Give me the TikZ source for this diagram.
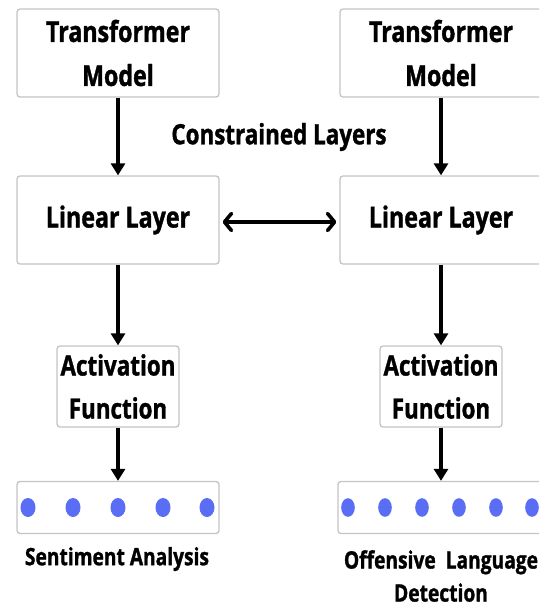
\documentclass[tikz,border=0pt]{standalone}
\usepackage{fontspec}
\setmainfont{Open Sans}[FakeStretch=0.8, BoldFeatures={FakeBold=1.2}]
\usetikzlibrary{arrows.meta}
\definecolor{boxgray}{HTML}{C4C4C4}
\definecolor{dotblue}{HTML}{5A6EF5}
\tikzset{
  block/.style={draw=boxgray, line width=1.3pt, rounded corners=3pt, fill=white,
    align=center, inner sep=0pt, font=\bfseries\fontsize{29}{44}\selectfont},
  bigbox/.style={block, minimum width=202pt, minimum height=88pt},
  actbox/.style={block, minimum width=122pt, minimum height=81pt,
    font=\bfseries\fontsize{28}{43}\selectfont},
  outbox/.style={block, minimum width=202pt, minimum height=52pt},
  downarrow/.style={draw=black, line width=3.6pt,
    arrows={-Triangle[length=12pt,width=14pt]}},
  bothways/.style={draw=black, line width=3.6pt, line cap=round,
    arrows={Straight Barb[length=7pt,width=17pt,line join=round,line cap=round]-Straight Barb[length=7pt,width=17pt,line join=round,line cap=round]}},
  tasklabel/.style={align=center, inner sep=0pt, font=\bfseries\fontsize{24}{33}\selectfont},
  unitdot/.style={fill=dotblue}
}
\begin{document}
\begin{tikzpicture}[x=1pt,y=-1pt]
\useasboundingbox (0,0) rectangle (539,606);
\clip (0,0) rectangle (539,606);

% left branch
\node[bigbox] (tl) at (118,53) {Transformer\\Model};
\node[bigbox] (ll) at (118,220) {Linear Layer};
\node[actbox] (al) at (118,386.5) {Activation\\Function};
\node[outbox] (ol) at (118,507.5) {};
\node[tasklabel] (cl) at (117,559) {Sentiment Analysis};

% right branch
\node[bigbox] (tr) at (441,53) {Transformer\\Model};
\node[bigbox] (lr) at (441,220) {Linear Layer};
\node[actbox] (ar) at (441,386.5) {Activation\\Function};
\node[outbox, minimum width=206pt] (or) at (441,507.5) {};
\node[tasklabel] (cr) at (441,576) {Offensive\ \ Language\\Detection};

% shared label
\node[font=\bfseries\fontsize{28}{33}\selectfont, inner sep=0pt] (cons) at (279,137) {Constrained Layers};

% output units
\foreach \x in {28,73,118,163,207} \fill[unitdot] (\x,507.5) ellipse (7.5pt and 9.5pt);
\foreach \x in {348,385,422,459,496,532} \fill[unitdot] (\x,507.5) ellipse (6.8pt and 9.3pt);

% connectors
\draw[downarrow] (tl) -- (ll);
\draw[downarrow] (ll) -- (al);
\draw[downarrow] (al) -- (ol);
\draw[downarrow] (tr) -- (lr);
\draw[downarrow] (lr) -- (ar);
\draw[downarrow] (ar) -- (or);
\coordinate (la) at ([shift={(3,2)}]ll.east);
\coordinate (ra) at ([shift={(-3,2)}]lr.west);
\draw[bothways] (la) -- (ra);
\end{tikzpicture}
\end{document}
